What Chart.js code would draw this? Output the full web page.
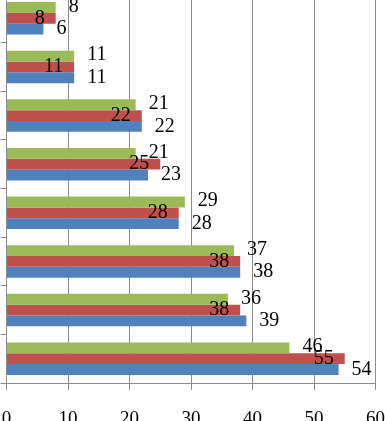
<!DOCTYPE html>
<html>
<head>
<meta charset="UTF-8">
<script src="https://cdn.jsdelivr.net/npm/chart.js"></script>
<style>
  body { margin: 0; background: #fff; overflow: hidden; }
  /* canvas is larger than the window, the picture is a crop of it */
  .wrap { position: absolute; left: -30px; top: -20px; width: 445px; height: 460px; }
</style>
</head>
<body>
<div class="wrap"><canvas id="chart"></canvas></div>
<script>
// categories top to bottom (no labels shown in the picture)
const categories = ['1', '2', '3', '4', '5', '6', '7', '8'];
const greenValues = [8, 11, 21, 21, 29, 37, 36, 46];
const redValues   = [8, 11, 22, 25, 28, 38, 38, 55];
const blueValues  = [6, 11, 22, 23, 28, 38, 39, 54];
const xTicks = [0, 10, 20, 30, 40, 50, 60];

const gridColor = '#8c8c8c';
const labelFont = '20px "Liberation Serif", "Times New Roman", serif';

// value labels like the excel ones: red inside the bar end, green/blue right of it
const barLabels = {
  id: 'barLabels',
  afterDatasetsDraw(chart) {
    const ctx = chart.ctx;
    ctx.save();
    ctx.font = labelFont;
    ctx.fillStyle = '#000';
    ctx.textBaseline = 'middle';
    chart.data.datasets.forEach((ds, i) => {
      chart.getDatasetMeta(i).data.forEach((bar, j) => {
        const txt = String(ds.data[j]);
        if (ds.label === 'red') {
          ctx.textAlign = 'right';
          ctx.fillText(txt, bar.x - 11, bar.y);
        } else {
          ctx.textAlign = 'left';
          ctx.fillText(txt, bar.x + 13, bar.y + (ds.label === 'green' ? -1 : 0));
        }
      });
    });
    ctx.restore();
  }
};

new Chart(document.getElementById('chart'), {
  type: 'bar',
  data: {
    labels: categories,
    datasets: [
      { label: 'green', data: greenValues, backgroundColor: '#9BBB59' },
      { label: 'red', data: redValues, backgroundColor: '#C0504D' },
      { label: 'blue', data: blueValues, backgroundColor: '#4F81BD' }
    ]
  },
  options: {
    indexAxis: 'y',
    responsive: true,
    maintainAspectRatio: false,
    animation: false,
    layout: { padding: { top: 14, right: 39.5, left: 30.5, bottom: 0 } },
    datasets: { bar: { categoryPercentage: 0.667, barPercentage: 1 } },
    plugins: { legend: { display: false }, tooltip: { enabled: false } },
    scales: {
      x: {
        min: 0,
        max: 60,
        afterBuildTicks: s => { s.ticks = xTicks.map(v => ({ value: v })); },
        afterFit: s => { s.height = 57; },
        grid: { color: gridColor, tickLength: 7 },
        border: { color: gridColor },
        ticks: {
          color: '#000',
          padding: 18,
          font: { family: '"Liberation Serif", "Times New Roman", serif', size: 19 }
        }
      },
      y: {
        afterFit: s => { s.width = 6; },
        grid: { drawOnChartArea: false, color: gridColor, tickLength: 6, offset: true },
        border: { color: gridColor },
        ticks: { display: false }
      }
    }
  },
  plugins: [barLabels]
});
</script>
</body>
</html>
